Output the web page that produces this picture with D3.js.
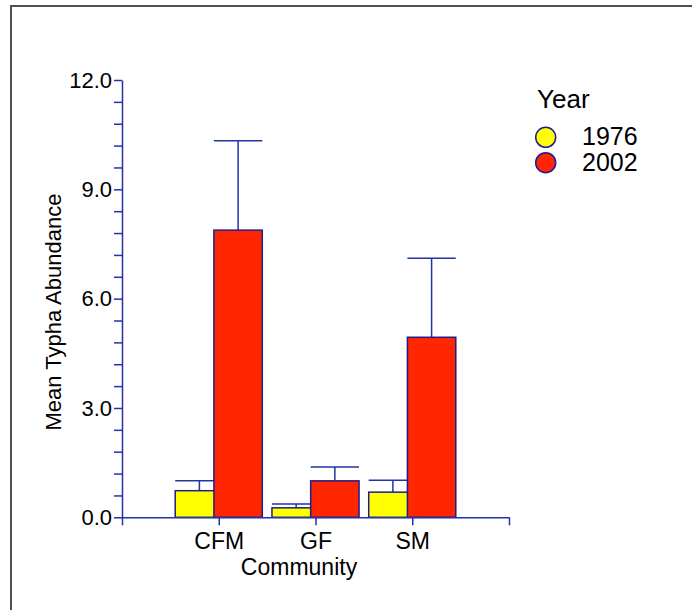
<!DOCTYPE html>
<html>
<head>
<meta charset="utf-8">
<script src="https://cdn.jsdelivr.net/npm/d3@7"></script>
<style>
  body { margin: 0; background: #fff; }
  svg { display: block; font-family: "Liberation Sans", Arial, sans-serif; }
</style>
</head>
<body>
<div class="chart"></div>
<script>
const communities = ["CFM", "GF", "SM"]
const years = ["1976", "2002"]
const mean1976 = [0.73, 0.26, 0.69]
const se1976 = [0.27, 0.105, 0.33]
const mean2002 = [7.88, 1.00, 4.94]
const se2002 = [2.45, 0.38, 2.17]
const yTicks = d3.range(0, 21).map(i => i * 0.6)

const w = 692
const h = 610
const axisColor = "#2233a8"
const colors = ["#ffff00", "#ff2600"]
const offsets = [-0.2, 0.2]
const barW = 0.5

const x = d3.scaleLinear().domain([0, 4]).range([122, 509])
const y = d3.scaleLinear().domain([0, 12]).range([517.3, 80])

const svg = d3.select(".chart").append("svg").attr("width", w).attr("height", h)

svg.append("rect")
  .attr("x", 11).attr("y", 6).attr("width", w).attr("height", h)
  .attr("fill", "none").attr("stroke", "#505050").attr("stroke-width", 2)

const series = [
  { year: years[0], means: mean1976, ses: se1976 },
  { year: years[1], means: mean2002, ses: se2002 }
]

// yellow first, then red on top of it
series.forEach((s, si) => {
  const g = svg.append("g")
  const rows = communities.map((c, i) => ({ c, i, m: s.means[i], se: s.ses[i], cx: i + 1 + offsets[si] }))

  g.selectAll("line.err")
    .data(rows)
    .enter()
    .append("line")
    .attr("x1", d => x(d.cx)).attr("x2", d => x(d.cx))
    .attr("y1", d => y(d.m)).attr("y2", d => y(d.m + d.se))
    .attr("stroke", axisColor).attr("stroke-width", 1.5)

  g.selectAll("line.cap")
    .data(rows)
    .enter()
    .append("line")
    .attr("x1", d => x(d.cx - barW / 2)).attr("x2", d => x(d.cx + barW / 2))
    .attr("y1", d => y(d.m + d.se)).attr("y2", d => y(d.m + d.se))
    .attr("stroke", axisColor).attr("stroke-width", 1.5)

  g.selectAll("rect")
    .data(rows)
    .enter()
    .append("rect")
    .attr("x", d => x(d.cx - barW / 2))
    .attr("width", d => x(barW) - x(0))
    .attr("y", d => y(d.m))
    .attr("height", d => y(0) - y(d.m))
    .attr("fill", colors[si])
    .attr("stroke", "#1c1c8c").attr("stroke-width", 1.5)
})

const yAxis = d3.axisLeft(y)
  .tickValues(yTicks)
  .tickSize(8).tickSizeOuter(0).tickPadding(2)
  .tickFormat(d => Math.abs(d / 3 - Math.round(d / 3)) < 1e-6 ? d.toFixed(1) : "")

const xAxis = d3.axisBottom(x)
  .tickValues([0, 1, 2, 3, 4])
  .tickSize(8).tickSizeOuter(0).tickPadding(7)
  .tickFormat(d => communities[d - 1] || "")

const gy = svg.append("g").attr("transform", `translate(${x(0)},0)`).call(yAxis)
const gx = svg.append("g").attr("transform", `translate(0,${y(0)})`).call(xAxis)

;[gx, gy].forEach(g => {
  g.select(".domain").attr("stroke", axisColor).attr("stroke-width", 1.5)
  g.selectAll(".tick line").attr("stroke", axisColor).attr("stroke-width", 1.5)
  g.selectAll(".tick text").attr("fill", "#000").style("font-family", "Liberation Sans, Arial, sans-serif")
})
gy.selectAll(".tick text").style("font-size", "22px")
gx.selectAll(".tick text").style("font-size", "23px")

svg.append("text")
  .attr("transform", "translate(61,312) rotate(-90)")
  .attr("text-anchor", "middle")
  .style("font-size", "22px")
  .text("Mean Typha Abundance")

svg.append("text")
  .attr("x", 299).attr("y", 575)
  .attr("text-anchor", "middle")
  .style("font-size", "23px")
  .text("Community")

// legend
const legend = svg.append("g")
legend.append("text").attr("x", 537).attr("y", 108).style("font-size", "26px").text("Year")
const items = legend.selectAll("g.item")
  .data(years)
  .enter()
  .append("g")
  .attr("transform", (d, i) => `translate(0,${137.3 + i * 25.4})`)
items.append("circle")
  .attr("cx", 545.7).attr("r", 10)
  .attr("fill", (d, i) => colors[i])
  .attr("stroke", "#1c1c9c").attr("stroke-width", 1.5)
items.append("text")
  .attr("x", 582).attr("y", 8)
  .style("font-size", "25px")
  .text(d => d)
</script>
</body>
</html>
